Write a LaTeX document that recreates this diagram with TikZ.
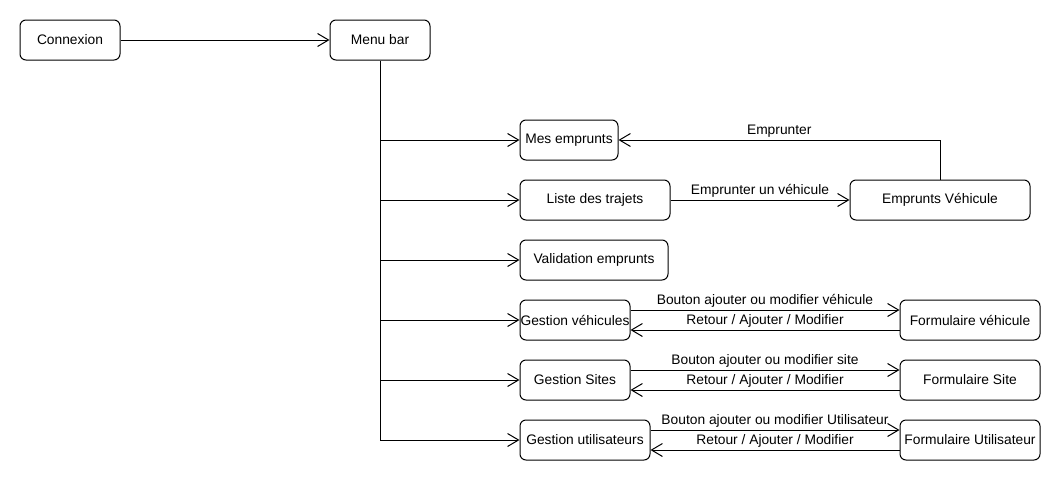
\documentclass[tikz,border=0pt]{standalone}
\usepackage{fontspec}
\setmainfont{Liberation Sans}
\usetikzlibrary{arrows.meta}
\begin{document}
\begin{tikzpicture}[x=1pt,y=-1pt,
  every node/.style={font=\fontsize{13.8}{15}\selectfont},
  box/.style={draw,line width=1pt,rounded corners=6pt,minimum height=40pt,inner sep=0pt,align=center},
  arr/.style={line width=1pt,-{Straight Barb[length=11pt,width=13pt,line width=1pt]}},
  ln/.style={line width=1pt},
  lab/.style={above,inner sep=2pt}]
\useasboundingbox (0,0) rectangle (1060,490);
\node[box,minimum width=100pt] (con) at (70,40) {Connexion};
\node[box,minimum width=100pt] (menu) at (380,40) {Menu bar};
\node[box,minimum width=98pt] (mes) at (569,140) {Mes emprunts};
\node[box,minimum width=150pt] (liste) at (595,200) {Liste des trajets};
\node[box,minimum width=180pt] (empv) at (940,200) {Emprunts Véhicule};
\node[box,minimum width=148pt] (valid) at (594,260) {Validation emprunts};
\node[box,minimum width=110pt] (gv) at (575,320) {Gestion véhicules};
\node[box,minimum width=140pt] (fv) at (970,320) {Formulaire véhicule};
\node[box,minimum width=110pt] (gs) at (575,380) {Gestion Sites};
\node[box,minimum width=140pt] (fs) at (970,380) {Formulaire Site};
\node[box,minimum width=130pt] (gu) at (585,440) {Gestion utilisateurs};
\node[box,minimum width=140pt] (fu) at (970,440) {Formulaire Utilisateur};

\draw[arr] (con) -- (menu);
\draw[ln] (menu.south) -- (menu.south |- gu.west);
\foreach \n in {mes,liste,valid,gv,gs,gu}
  \draw[arr] (menu.south |- \n.west) -- (\n.west);

\draw[arr] (empv.north) |- (mes.east) node[pos=0.75,lab] {Emprunter};
\draw[arr] (liste) -- node[lab] {Emprunter un véhicule} (empv);

\draw[arr] ([yshift=10pt]gv.east) -- node[lab] {Bouton ajouter ou modifier véhicule} ([yshift=10pt]gv.east -| fv.west);
\draw[arr] ([yshift=-10pt]fv.west) -- node[lab] {Retour / Ajouter / Modifier} ([yshift=-10pt]fv.west -| gv.east);
\draw[arr] ([yshift=10pt]gs.east) -- node[lab] {Bouton ajouter ou modifier site} ([yshift=10pt]gs.east -| fs.west);
\draw[arr] ([yshift=-10pt]fs.west) -- node[lab] {Retour / Ajouter / Modifier} ([yshift=-10pt]fs.west -| gs.east);
\draw[arr] ([yshift=10pt]gu.east) -- node[lab] {Bouton ajouter ou modifier Utilisateur} ([yshift=10pt]gu.east -| fu.west);
\draw[arr] ([yshift=-10pt]fu.west) -- node[lab] {Retour / Ajouter / Modifier} ([yshift=-10pt]fu.west -| gu.east);
\end{tikzpicture}
\end{document}
